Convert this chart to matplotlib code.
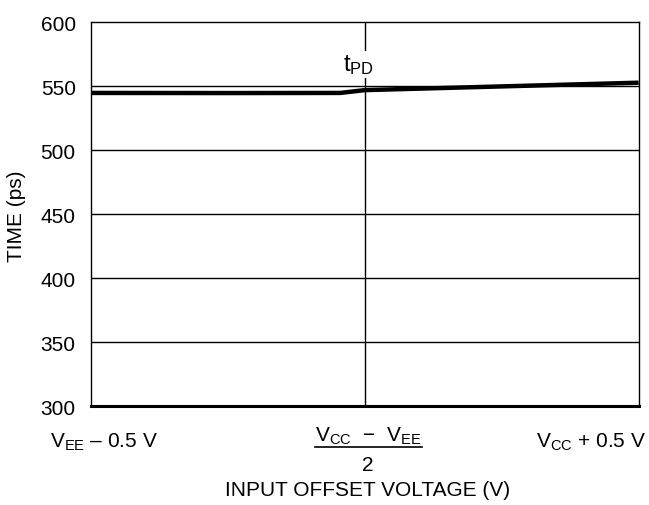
import matplotlib
matplotlib.use("Agg")
import matplotlib.pyplot as plt
from matplotlib.lines import Line2D

plt.rcParams["font.family"] = ["Liberation Sans", "DejaVu Sans"]
plt.rcParams["mathtext.fontset"] = "custom"
plt.rcParams["mathtext.rm"] = "Liberation Sans"
plt.rcParams["mathtext.it"] = "Liberation Sans"

# input offset, normalised 0 (V_EE - 0.5 V) .. 1 (V_CC + 0.5 V)
offset = [0.0, 0.25, 0.455, 0.5, 0.75, 1.0]
t_pd = [544.8, 544.7, 544.8, 547.0, 549.9, 552.8]

y_ticks = [300, 350, 400, 450, 500, 550, 600]
x_labels = [r"$\mathregular{V_{EE}}$ – 0.5 V",
            r"$\mathregular{V_{CC}}$  −  $\mathregular{V_{EE}}$", "2",
            r"$\mathregular{V_{CC}}$ + 0.5 V"]

fig = plt.figure(figsize=(6.49, 5.06), dpi=100)
ax = fig.add_axes([0.1402, 0.1951, 0.8439, 0.7589])

ax.plot(offset, t_pd, color="black", lw=3.2, solid_capstyle="butt", zorder=3)

ax.set_xlim(0, 1)
ax.set_ylim(300, 600)
ax.set_yticks(y_ticks)
ax.set_yticklabels([str(v) for v in y_ticks], fontsize=15)
ax.tick_params(axis="y", length=0, pad=11)
ax.set_xticks([])

for v in y_ticks[1:-1]:
    ax.axhline(v, color="black", lw=1.0, zorder=1)
ax.axvline(0.5, color="black", lw=1.0, zorder=1)

for side in ["left", "right", "top"]:
    ax.spines[side].set_linewidth(1.0)
ax.spines["bottom"].set_linewidth(2.2)

ax.text(0.488, 567, r"t$\mathregular{_{PD}}$", ha="center", va="center", fontsize=17,
        bbox=dict(facecolor="white", edgecolor="none", pad=1.0), zorder=2)

fig.text(17 / 649, 1 - 216 / 506, "TIME (ps)", rotation=90, ha="center", va="center",
         fontsize=15)

# x axis labels
fig.text(50 / 649, 1 - 442 / 506, x_labels[0], ha="left", va="center", fontsize=15)
fig.text(368 / 649, 1 - 436 / 506, x_labels[1], ha="center", va="center", fontsize=15)
fig.text(368 / 649, 1 - 466 / 506, x_labels[2], ha="center", va="center", fontsize=15)
fig.text(646 / 649, 1 - 442 / 506, x_labels[3], ha="right", va="center", fontsize=15)
fig.add_artist(Line2D([315 / 649, 422 / 649], [1 - 448 / 506, 1 - 448 / 506],
                      color="black", lw=1.2, transform=fig.transFigure))
fig.text(368 / 649, 1 - 491 / 506, "INPUT OFFSET VOLTAGE (V)", ha="center", va="center",
         fontsize=15)

fig.savefig("out.png", dpi=100)
